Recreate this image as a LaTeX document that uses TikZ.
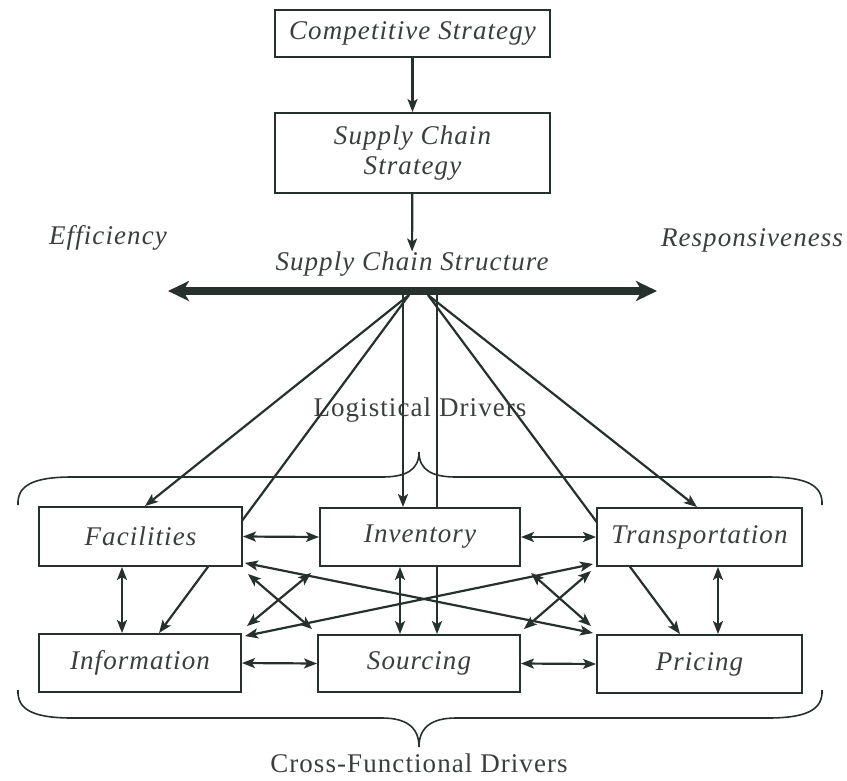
\documentclass[tikz,border=0pt]{standalone}
\usepackage{fontspec}
\setmainfont{Liberation Serif}
\newfontfamily\labfont[LetterSpace=4]{Liberation Serif}
\usetikzlibrary{arrows.meta,calc}
\definecolor{ink}{HTML}{26302C}
\definecolor{txt}{HTML}{3A3F3C}
\pgfdeclarelayer{behind}
\pgfsetlayers{behind,main}
\begin{document}
\begin{tikzpicture}[x=1pt,y=-1pt,
  box/.style={draw=ink,line width=1.9pt,fill=white,inner sep=0pt,align=center,
    font=\labfont\fontsize{27}{30}\selectfont\itshape,text=txt},
  lbl/.style={inner sep=0pt,font=\labfont\fontsize{27}{30}\selectfont\itshape,text=txt},
  rlbl/.style={inner sep=0pt,font=\labfont\fontsize{27}{30}\selectfont,text=txt},
  link/.style={draw=ink,line width=2.2pt,-{Stealth[length=13pt,width=10pt,inset=3pt]}},
  both/.style={draw=ink,line width=2.2pt,
    {Stealth[length=13pt,width=10pt,inset=3pt]}-{Stealth[length=13pt,width=10pt,inset=3pt]}},
  axis/.style={draw=ink,line width=7.5pt,
    {Stealth[length=21pt,width=20pt,inset=6pt]}-{Stealth[length=21pt,width=20pt,inset=6pt]}},
  brace/.style={draw=ink,line width=1.6pt}]
\useasboundingbox (0,0) rectangle (847,780);

% strategy chain
\node[box,minimum width=275pt,minimum height=47pt] (cs) at (412.5,33.5) {Competitive Strategy};
\node[box,minimum width=275pt,minimum height=80pt] (scs) at (412.5,153) {Supply Chain\\Strategy};
\node[lbl] (struct) at (412,264) {Supply Chain Structure};
\node[lbl] (eff) at (108,238) {Efficiency};
\node[lbl] (resp) at (752,240) {Responsiveness};

% efficiency / responsiveness axis
\coordinate (barL) at (168,291);
\coordinate (barR) at (657,291);
\draw[axis] (barL) -- (barR);

% driver boxes
\node[box,minimum width=203pt,minimum height=59pt] (fac) at (140.5,536.5) {Facilities};
\node[box,minimum width=200pt,minimum height=58pt] (inv) at (420,537) {Inventory};
\node[box,minimum width=205pt,minimum height=58pt] (tra) at (699.5,537) {Transportation};
\node[box,minimum width=202pt,minimum height=58pt] (inf) at (140,663) {Information};
\node[box,minimum width=202pt,minimum height=57pt] (sou) at (419,663.5) {Sourcing};
\node[box,minimum width=205pt,minimum height=58pt] (pri) at (699.5,664) {Pricing};

\node[rlbl] (logi) at (420,410) {Logistical Drivers};
\node[rlbl] (cross) at (419,763) {Cross-Functional Drivers};

% points where the drivers leave the structure axis
\coordinate (fanL) at (409,295);
\coordinate (fanR) at (428,295);
\coordinate (dropL) at (403,295);
\coordinate (dropR) at (437,295);

\begin{pgfonlayer}{behind}
  \draw[link] (cs) -- (scs);
  \draw[link] (scs) -- (struct);
  % structure to logistical drivers
  \draw[link] (fanL) -- ($(fac.north)+(4.5,0)$);
  \draw[link] (fanL) -- ($(inf.north)+(19,0)$);
  \draw[link] (dropL) -- ($(inv.north)+(-17,0)$);
  \draw[link] (dropR) -- ($(sou.north)+(18,0)$);
  \draw[link] (fanR) -- ($(tra.north)+(-2.5,0)$);
  \draw[link] (fanR) -- ($(pri.north)+(-19.5,0)$);
  % neighbouring drivers
  \draw[both] (fac.east) -- (inv.west);
  \draw[both] (inv.east) -- (tra.west);
  \draw[both] (inf.east) -- (sou.west);
  \draw[both] (sou.east) -- (pri.west);
  \draw[both] ($(fac.south)+(-18.5,0)$) -- ($(inf.north)+(-18,0)$);
  \draw[both] ($(inv.south)+(-20,0)$) -- ($(sou.north)+(-19,0)$);
  \draw[both] ($(tra.south)+(18.5,0)$) -- ($(pri.north)+(18.5,0)$);
  % crossing links
  \draw[both] ($(fac.south east)+(2,-4)$) -- ($(pri.north west)+(-3,-1)$);
  \draw[both] ($(fac.south east)+(5,7)$) -- ($(sou.north west)+(-5,-5)$);
  \draw[both] ($(inv.south west)+(-8,6)$) -- ($(inf.north east)+(5,-7)$);
  \draw[both] ($(tra.south west)+(-3,-3)$) -- ($(inf.north east)+(3,3)$);
  \draw[both] ($(inv.south east)+(10,6)$) -- ($(pri.north west)+(-5,-8)$);
  \draw[both] ($(tra.south west)+(-5,4)$) -- ($(sou.north east)+(3,-5)$);
\end{pgfonlayer}

% braces
\draw[brace] (18,505) .. controls (17,486) and (32,477) .. (72,477)
  -- (382,477) .. controls (406,477) and (419,470) .. (419,452)
  .. controls (419,470) and (432,477) .. (456,477)
  -- (768,477) .. controls (808,477) and (823,486) .. (822,505);
\draw[brace] (18,690) .. controls (17,709) and (32,718) .. (72,718)
  -- (382,718) .. controls (406,718) and (419,727) .. (419,747)
  .. controls (419,727) and (432,718) .. (456,718)
  -- (768,718) .. controls (808,718) and (823,709) .. (822,690);
\end{tikzpicture}
\end{document}
